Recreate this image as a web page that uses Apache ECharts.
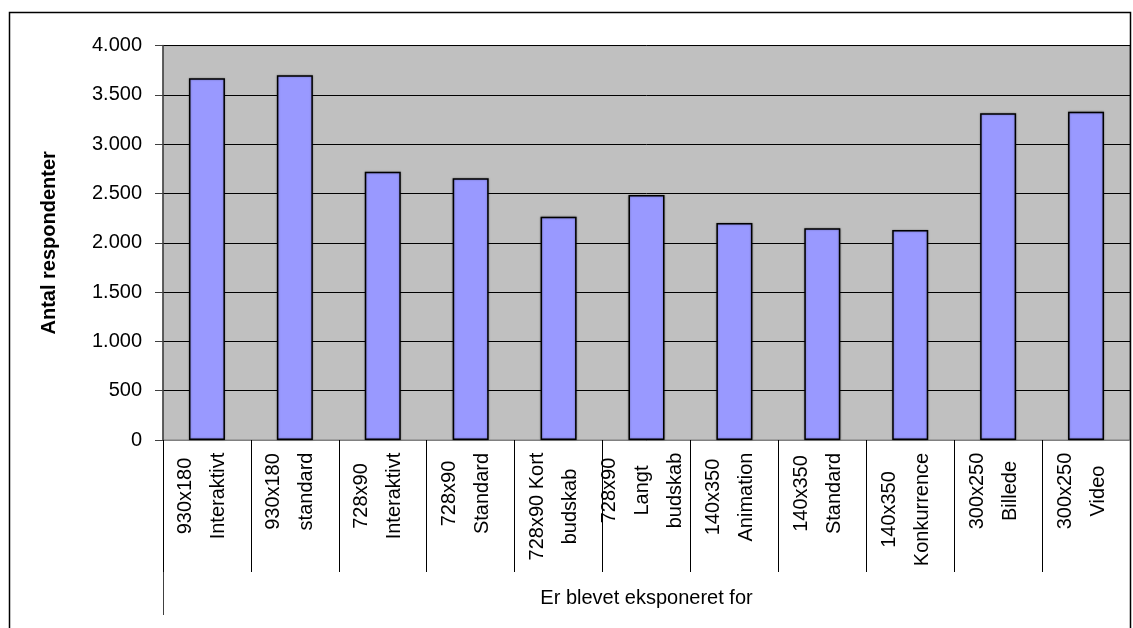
<!DOCTYPE html>
<html>
<head>
<meta charset="utf-8">
<script src="https://cdn.jsdelivr.net/npm/echarts@6/dist/echarts.min.js"></script>
<style>
html, body { margin: 0; padding: 0; background: #fff; }
#chart { width: 1133px; height: 628px; }
</style>
</head>
<body>
<div id="chart"></div>
<script>
var categories = [
	'930x180\nInteraktivt', '930x180\nstandard', '728x90\nInteraktivt', '728x90\nStandard',
	'728x90 Kort\nbudskab', '728x90\nLangt\nbudskab', '140x350\nAnimation', '140x350\nStandard',
	'140x350\nKonkurrence', '300x250\nBillede', '300x250\nVideo'
];
var respondents = [3670, 3700, 2720, 2655, 2265, 2485, 2200, 2147, 2130, 3313, 3330];
var yMin = 0, yMax = 4000, yStep = 500;
var yName = 'Antal respondenter';
var xName = 'Er blevet eksponeret for';

var FONT = '"Liberation Sans", Arial, sans-serif';
var FS = 20;

// width of the longest line per label, so the lines can be centred inside the block
var ctx = document.createElement('canvas').getContext('2d');
ctx.font = FS + 'px ' + FONT;
var rich = {};
categories.forEach(function(c, i){
	var w = 0;
	c.split('\n').forEach(function(line){
		w = Math.max(w, ctx.measureText(line).width);
	});
	rich['w' + i] = {
		width: Math.ceil(w) + 1,
		align: 'center',
		lineHeight: 33,
		fontSize: FS,
		fontFamily: FONT,
		color: '#000'
	};
});

function danish(v){
	return String(v).replace(/\B(?=(\d{3})+(?!\d))/g, '.');
}

var chart = echarts.init(document.getElementById('chart'));
chart.setOption({
	animation: false,
	backgroundColor: '#fff',
	grid: {
		left: 163, right: 3, top: 45.6, bottom: 188,
		show: true,
		backgroundColor: '#c0c0c0',
		borderColor: '#808080',
		borderWidth: 1
	},
	xAxis: {
		type: 'category',
		data: categories,
		name: xName,
		nameLocation: 'middle',
		nameGap: 148,
		nameTextStyle: { fontSize: FS, fontFamily: FONT, color: '#000' },
		axisLine: { show: true, lineStyle: { color: '#808080', width: 1 } },
		axisTick: { show: true, length: 132, alignWithLabel: false, lineStyle: { color: '#000', width: 1 } },
		axisLabel: {
			interval: 0,
			rotate: 90,
			margin: 12,
			padding: [0, 0, 9, 0],
			formatter: function(v, i){
				return v.split('\n').map(function(line){
					return '{w' + i + '|' + line + '}';
				}).join('\n');
			},
			rich: rich
		},
		splitLine: { show: false }
	},
	yAxis: {
		type: 'value',
		min: yMin, max: yMax, interval: yStep,
		name: yName,
		nameLocation: 'middle',
		nameGap: 104,
		nameTextStyle: { fontSize: FS, fontWeight: 'bold', fontFamily: FONT, color: '#000' },
		axisLine: { show: true, lineStyle: { color: '#404040', width: 1.5 } },
		axisTick: { show: true, length: 8, lineStyle: { color: '#404040' } },
		axisLabel: {
			margin: 21,
			fontSize: FS,
			fontFamily: FONT,
			color: '#000',
			formatter: danish
		},
		splitLine: { show: true, lineStyle: { color: '#000', width: 1 } }
	},
	series: [{
		type: 'bar',
		data: respondents,
		barWidth: 36,
		itemStyle: {
			color: '#9999ff',
			borderColor: '#000',
			borderWidth: 1.5,
			shadowColor: 'rgba(0,0,0,0.35)',
			shadowBlur: 2
		}
	}],
	graphic: [
		{
			type: 'rect',
			shape: { x: 9.5, y: 12.5, width: 1121, height: 700 },
			style: { fill: 'none', stroke: '#000', lineWidth: 1.5 },
			silent: true
		},
		{
			type: 'line',
			shape: { x1: 163.5, y1: 440, x2: 163.5, y2: 615 },
			style: { stroke: '#404040', lineWidth: 1 },
			silent: true
		}
	]
});
</script>
</body>
</html>
